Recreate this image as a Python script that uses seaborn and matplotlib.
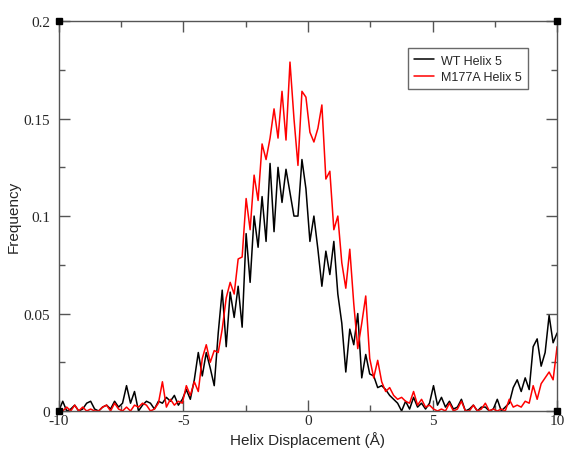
import numpy as np
import pandas as pd
import seaborn as sns
import matplotlib.pyplot as plt
from matplotlib.ticker import MultipleLocator, FixedLocator, FixedFormatter

# bin centres of the displacement histogram (126 bins from -10 to 10 A)
displacement = np.linspace(-10, 10, 126)

wt_helix5 = [
    0.000, 0.005, 0.000, 0.001, 0.003, 0.000, 0.001, 0.004, 0.005, 0.001,
    0.000, 0.002, 0.003, 0.001, 0.005, 0.002, 0.004, 0.013, 0.004, 0.010,
    0.000, 0.003, 0.005, 0.004, 0.001, 0.005, 0.004, 0.007, 0.005, 0.008,
    0.003, 0.006, 0.011, 0.006, 0.016, 0.030, 0.018, 0.030, 0.022, 0.013,
    0.040, 0.062, 0.033, 0.061, 0.048, 0.064, 0.043, 0.091, 0.066, 0.100,
    0.084, 0.110, 0.087, 0.127, 0.092, 0.125, 0.107, 0.124, 0.112, 0.100,
    0.100, 0.129, 0.114, 0.087, 0.100, 0.083, 0.064, 0.082, 0.070, 0.087,
    0.060, 0.045, 0.020, 0.042, 0.034, 0.050, 0.017, 0.029, 0.019, 0.018,
    0.012, 0.013, 0.011, 0.008, 0.006, 0.004, 0.000, 0.005, 0.001, 0.007,
    0.002, 0.004, 0.001, 0.004, 0.013, 0.003, 0.007, 0.002, 0.005, 0.001,
    0.002, 0.006, 0.000, 0.001, 0.003, 0.000, 0.002, 0.002, 0.000, 0.001,
    0.006, 0.000, 0.002, 0.004, 0.012, 0.016, 0.010, 0.017, 0.011, 0.033,
    0.037, 0.023, 0.030, 0.049, 0.035, 0.040,
]

m177a_helix5 = [
    0.000, 0.000, 0.002, 0.000, 0.003, 0.000, 0.002, 0.000, 0.001, 0.000,
    0.000, 0.002, 0.003, 0.000, 0.004, 0.001, 0.000, 0.002, 0.000, 0.003,
    0.002, 0.004, 0.003, 0.000, 0.001, 0.004, 0.015, 0.002, 0.006, 0.003,
    0.005, 0.004, 0.013, 0.008, 0.015, 0.010, 0.027, 0.034, 0.025, 0.031,
    0.030, 0.042, 0.058, 0.066, 0.060, 0.078, 0.079, 0.109, 0.093, 0.121,
    0.108, 0.137, 0.129, 0.140, 0.155, 0.140, 0.164, 0.139, 0.179, 0.150,
    0.126, 0.164, 0.161, 0.143, 0.138, 0.145, 0.157, 0.119, 0.123, 0.093,
    0.100, 0.076, 0.063, 0.083, 0.055, 0.032, 0.045, 0.059, 0.027, 0.017,
    0.026, 0.015, 0.010, 0.012, 0.008, 0.006, 0.007, 0.005, 0.004, 0.010,
    0.003, 0.006, 0.002, 0.003, 0.001, 0.000, 0.001, 0.000, 0.004, 0.000,
    0.001, 0.005, 0.000, 0.000, 0.003, 0.000, 0.001, 0.004, 0.000, 0.001,
    0.000, 0.001, 0.000, 0.006, 0.002, 0.003, 0.002, 0.005, 0.004, 0.013,
    0.006, 0.014, 0.017, 0.020, 0.016, 0.033,
]

series_names = ["WT Helix 5", "M177A Helix 5"]
x_ticks = [-10, -5, 0, 5, 10]
x_tick_labels = ["-10", "-5", "0", "5", "10"]
y_ticks = [0, 0.05, 0.1, 0.15, 0.2]
y_tick_labels = ["0", "0.05", "0.1", "0.15", "0.2"]

df = pd.DataFrame({
    "x": np.concatenate([displacement, displacement]),
    "freq": wt_helix5 + m177a_helix5,
    "set": [series_names[0]] * len(wt_helix5) + [series_names[1]] * len(m177a_helix5),
})

sns.set_style("ticks")
plt.rcParams["font.family"] = ["Liberation Sans", "DejaVu Sans"]

fig = plt.figure(figsize=(5.65, 4.52), dpi=100)
ax = fig.add_axes([0.104, 0.0885, 0.882, 0.8625])

sns.lineplot(data=df, x="x", y="freq", hue="set", hue_order=series_names,
             palette=["black", "red"], linewidth=1.1, ax=ax, legend=True)

ax.set_xlim(-10, 10)
ax.set_ylim(0, 0.2)
ax.xaxis.set_major_locator(FixedLocator(x_ticks))
ax.xaxis.set_major_formatter(FixedFormatter(x_tick_labels))
ax.yaxis.set_major_locator(FixedLocator(y_ticks))
ax.yaxis.set_major_formatter(FixedFormatter(y_tick_labels))
ax.xaxis.set_minor_locator(MultipleLocator(2.5))
ax.yaxis.set_minor_locator(MultipleLocator(0.025))

for s in ax.spines.values():
    s.set_color("#555555")
    s.set_linewidth(1.0)
ax.tick_params(which="both", direction="in", top=True, right=True,
               color="#555555", width=1.0)
ax.tick_params(which="major", length=8, labelsize=11)
ax.tick_params(axis="x", which="major", pad=2)
ax.tick_params(axis="y", which="major", pad=6)
ax.tick_params(which="minor", length=4.5)
for lab in ax.get_xticklabels() + ax.get_yticklabels():
    lab.set_family("Liberation Serif")

ax.set_xlabel("Helix Displacement (Å)", fontsize=11, labelpad=3)
ax.set_ylabel("Frequency", fontsize=11, labelpad=2)

# small black squares at the corners, grace style
ax.plot([-10, 10, -10, 10], [0, 0, 0.2, 0.2], "s", color="black",
        markersize=4, clip_on=False, zorder=5)

leg = ax.legend(loc="upper left", bbox_to_anchor=(0.70, 0.93), fontsize=9,
                frameon=True, fancybox=False, handlelength=1.6,
                handletextpad=0.6, borderpad=0.5, labelspacing=0.35,
                borderaxespad=0)
leg.get_frame().set_edgecolor("#444444")
leg.get_frame().set_linewidth(1.0)

fig.savefig("out.png", dpi=100)
